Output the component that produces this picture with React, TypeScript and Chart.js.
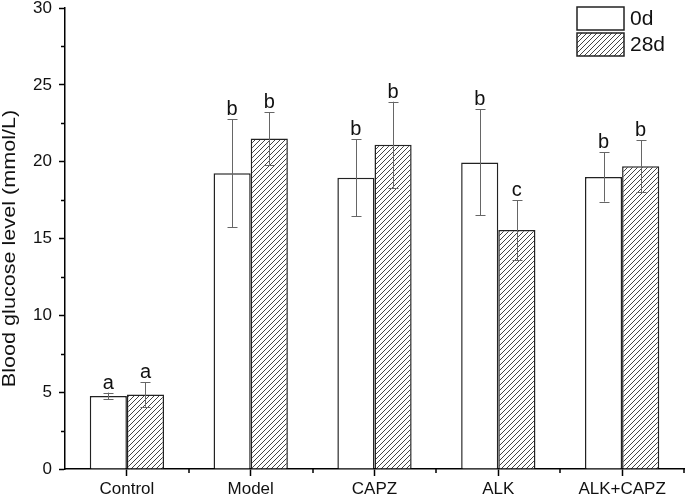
import React, { useEffect, useRef } from "react";
import { Chart, registerables } from "chart.js";

Chart.register(...registerables);

const categories = ["Control", "Model", "CAPZ", "ALK", "ALK+CAPZ"];
const seriesLabels = ["0d", "28d"];
const day0 = [4.75, 19.25, 18.95, 19.95, 19.0];
const day0Err = [0.22, 3.5, 2.5, 3.45, 1.6];
const day28 = [4.85, 21.5, 21.1, 15.55, 19.7];
const day28Err = [0.8, 1.7, 2.8, 1.95, 1.7];
const day0Letters = ["a", "b", "b", "b", "b"];
const day28Letters = ["a", "b", "b", "c", "b"];
const yTicks = [0, 5, 10, 15, 20, 25, 30];
const yTitle = "Blood glucose level (mmol/L)";

const FONT = "'Liberation Sans', Arial, sans-serif";

function makeHatch(): CanvasPattern | string {
  const s = 5;
  const c = document.createElement("canvas");
  c.width = s;
  c.height = s;
  const ctx = c.getContext("2d");
  if (!ctx) return "#fff";
  ctx.fillStyle = "#ffffff";
  ctx.fillRect(0, 0, s, s);
  ctx.strokeStyle = "#444";
  ctx.lineWidth = 1;
  ctx.beginPath();
  ctx.moveTo(-1, s + 1);
  ctx.lineTo(s + 1, -1);
  ctx.moveTo(-1, 1);
  ctx.lineTo(1, -1);
  ctx.moveTo(s - 1, s + 1);
  ctx.lineTo(s + 1, s - 1);
  ctx.stroke();
  const p = ctx.createPattern(c, "repeat");
  return p || "#fff";
}

export default function App() {
  const ref = useRef<HTMLCanvasElement | null>(null);

  useEffect(() => {
    document.body.style.margin = "0";
    const canvas = ref.current;
    if (!canvas) return;
    const hatch = makeHatch();
    const errs = [day0Err, day28Err];
    const letters = [day0Letters, day28Letters];

    const extras = {
      id: "extras",
      afterDatasetsDraw(chart: any) {
        const ctx = chart.ctx;
        const y = chart.scales.y;
        ctx.save();
        chart.data.datasets.forEach((ds: any, di: number) => {
          const meta = chart.getDatasetMeta(di);
          meta.data.forEach((bar: any, i: number) => {
            const v = ds.data[i];
            const e = errs[di][i];
            const x = Math.round(bar.x) + 0.5;
            const yt = y.getPixelForValue(v + e);
            const yb = y.getPixelForValue(v - e);
            ctx.strokeStyle = "#666";
            ctx.lineWidth = 1;
            ctx.beginPath();
            ctx.moveTo(x, yt);
            ctx.lineTo(x, yb);
            ctx.moveTo(x - 5, Math.round(yt) + 0.5);
            ctx.lineTo(x + 5, Math.round(yt) + 0.5);
            ctx.moveTo(x - 5, Math.round(yb) + 0.5);
            ctx.lineTo(x + 5, Math.round(yb) + 0.5);
            ctx.stroke();
            ctx.fillStyle = "#111";
            ctx.font = `20px ${FONT}`;
            ctx.textAlign = "center";
            ctx.textBaseline = "alphabetic";
            ctx.fillText(letters[di][i], bar.x, yt - 4);
          });
        });
        ctx.restore();
      },
      afterDraw(chart: any) {
        const ctx = chart.ctx;
        const xs = chart.scales.x;
        const ys = chart.scales.y;
        const area = chart.chartArea;
        ctx.save();
        ctx.strokeStyle = "#000";
        ctx.lineWidth = 1.5;
        ctx.beginPath();
        for (let v = 2.5; v < 30; v += 5) {
          const py = Math.round(ys.getPixelForValue(v)) + 0.5;
          ctx.moveTo(area.left, py);
          ctx.lineTo(area.left - 4, py);
        }
        for (let i = 1; i <= categories.length; i++) {
          const px = Math.round(xs.getPixelForValue(i - 0.5));
          ctx.moveTo(px, area.bottom);
          ctx.lineTo(px, area.bottom + 4);
        }
        ctx.stroke();
        // y title (stretched along its length like the original)
        ctx.save();
        ctx.translate(15, (area.top + area.bottom) / 2 + 10);
        ctx.rotate(-Math.PI / 2);
        ctx.scale(1.2, 1);
        ctx.fillStyle = "#111";
        ctx.font = `18px ${FONT}`;
        ctx.textAlign = "center";
        ctx.textBaseline = "alphabetic";
        ctx.fillText(yTitle, 0, 0);
        ctx.restore();
        // legend
        const lx = 577;
        const bw = 47;
        const bh = 23;
        const tops = [7, 33];
        chart.data.datasets.forEach((ds: any, di: number) => {
          const ty = tops[di];
          ctx.fillStyle = ds.backgroundColor;
          ctx.fillRect(lx, ty, bw, bh);
          ctx.strokeStyle = "#222";
          ctx.lineWidth = 1.5;
          ctx.strokeRect(lx, ty, bw, bh);
          ctx.fillStyle = "#111";
          ctx.font = `21px ${FONT}`;
          ctx.textAlign = "left";
          ctx.textBaseline = "middle";
          ctx.fillText(ds.label, lx + bw + 6, ty + bh / 2 + 1);
        });
        ctx.restore();
      },
    };

    const chart = new Chart(canvas, {
      type: "bar",
      data: {
        labels: categories,
        datasets: [
          {
            label: seriesLabels[0],
            data: day0,
            backgroundColor: "#ffffff",
            borderColor: "#222",
            borderWidth: 1.5,
            categoryPercentage: 0.6,
            barPercentage: 1.0,
          },
          {
            label: seriesLabels[1],
            data: day28,
            backgroundColor: hatch as any,
            borderColor: "#222",
            borderWidth: 1.5,
            categoryPercentage: 0.6,
            barPercentage: 1.0,
          },
        ],
      },
      options: {
        responsive: false,
        animation: false,
        layout: { padding: { top: 0, right: 1, left: 0, bottom: 0 } },
        plugins: { legend: { display: false }, tooltip: { enabled: false } },
        scales: {
          x: {
            type: "category",
            offset: true,
            grid: {
              display: true,
              drawOnChartArea: false,
              drawTicks: true,
              tickLength: 7,
              tickColor: "#000",
              tickWidth: 1.5,
              offset: false,
            },
            border: { display: true, color: "#000", width: 1.5 },
            ticks: {
              color: "#111",
              font: { family: FONT, size: 17 },
              padding: 3,
              maxRotation: 0,
              autoSkip: false,
            },
            afterFit(s: any) {
              s.height = 29;
            },
          },
          y: {
            min: 0,
            max: 30,
            afterBuildTicks(s: any) {
              s.ticks = yTicks.map((v) => ({ value: v }));
            },
            grid: {
              display: true,
              drawOnChartArea: false,
              drawTicks: true,
              tickLength: 6,
              tickColor: "#000",
              tickWidth: 1.5,
            },
            border: { display: true, color: "#000", width: 1.5 },
            ticks: {
              color: "#111",
              font: { family: FONT, size: 17 },
              padding: 7,
            },
            title: { display: false },
            afterFit(s: any) {
              s.width = 65;
              s.paddingTop = 8;
              s.paddingBottom = 0;
            },
          },
        },
      },
      plugins: [extras],
    });
    return () => chart.destroy();
  }, []);

  return <canvas ref={ref} width={685} height={498} style={{ display: "block" }} />;
}
